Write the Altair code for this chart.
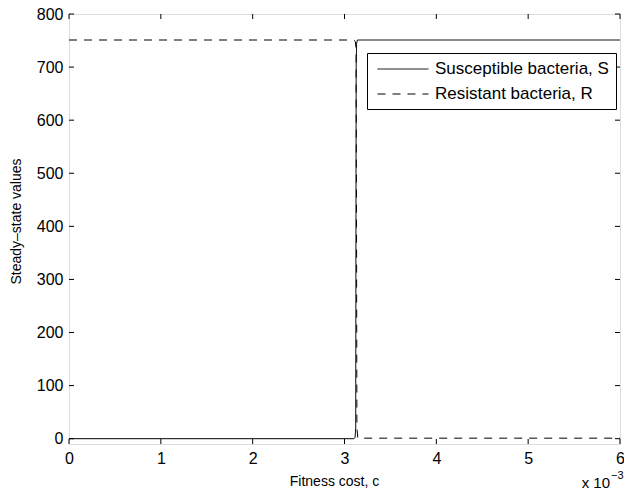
import altair as alt
import pandas as pd

# Data (x in units of 1e-3)
s_x = [0.0, 3.10, 3.115, 3.122, 3.127, 3.132, 3.14, 6.0]
s_y = [0.0, 0.0, 2.0, 20.0, 700.0, 745.0, 751.0, 751.0]
r_x = [0.0, 3.10, 3.118, 3.126, 3.131, 3.135, 3.145, 6.0]
r_y = [751.0, 751.0, 748.0, 735.0, 400.0, 20.0, 1.0, 1.0]
series_names = ["Susceptible bacteria, S", "Resistant bacteria, R"]
x_ticks = [0, 1, 2, 3, 4, 5, 6]
y_ticks = [0, 100, 200, 300, 400, 500, 600, 700, 800]

W, H = 551, 430
FONT = "Liberation Sans"

rows = []
for x, y in zip(s_x, s_y):
    rows.append({"x": x, "v": y, "series": series_names[0], "o": len(rows)})
for x, y in zip(r_x, r_y):
    rows.append({"x": x, "v": y, "series": series_names[1], "o": len(rows)})
df = pd.DataFrame(rows)

xs = alt.Scale(domain=[0, 6], nice=False)
ys = alt.Scale(domain=[-10, 800], nice=False)

lines = alt.Chart(df).mark_line(strokeWidth=1, color="black").encode(
    x=alt.X("x:Q", scale=xs,
            axis=alt.Axis(values=x_ticks, format="d", title="Fitness cost, c", grid=False,
                          tickSize=0, domain=False, labelPadding=6, labelFlush=False,
                          labelFontSize=16, labelFont=FONT, labelColor="black",
                          titleFont=FONT, titleFontSize=14, titleFontWeight="normal",
                          titleColor="black", titleY=37, titleX=265,
                          titleBaseline="middle")),
    y=alt.Y("v:Q", scale=ys,
            axis=alt.Axis(values=y_ticks, format="d", title="Steady\u2013state values", grid=False,
                          tickSize=0, domain=False, labelPadding=6,
                          labelFontSize=16, labelFont=FONT, labelColor="black",
                          titleFont=FONT, titleFontSize=14, titleFontWeight="normal",
                          titleColor="black", titleX=-53, titleY=207,
                          titleBaseline="middle")),
    detail="series:N",
    order="o:Q",
    strokeDash=alt.StrokeDash(
        "series:N",
        scale=alt.Scale(domain=series_names, range=[[1, 0], [8, 7]]),
        legend=alt.Legend(title=None, orient="none", legendX=298, legendY=39,
                          strokeColor="black", fillColor="white", padding=7,
                          symbolType="M-0.65,0H5.35", symbolSize=289, symbolStrokeWidth=1,
                          symbolStrokeColor="black", labelLimit=0,
                          labelFont=FONT, labelFontSize=17, labelColor="black",
                          labelOffset=43, rowPadding=8)),
)

xt = pd.DataFrame({"t": x_ticks})
yt = pd.DataFrame({"t": y_ticks})
tick_b = alt.Chart(xt).mark_rule(color="black", strokeWidth=1).encode(
    x=alt.X("t:Q", scale=xs), y=alt.value(H), y2=alt.value(H - 5))
tick_t = alt.Chart(xt).mark_rule(color="black", strokeWidth=1).encode(
    x=alt.X("t:Q", scale=xs), y=alt.value(0), y2=alt.value(5))
tick_l = alt.Chart(yt).mark_rule(color="black", strokeWidth=1).encode(
    y=alt.Y("t:Q", scale=ys), x=alt.value(0), x2=alt.value(5))
tick_r = alt.Chart(yt).mark_rule(color="black", strokeWidth=1).encode(
    y=alt.Y("t:Q", scale=ys), x=alt.value(W - 5), x2=alt.value(W))

exp_base = alt.Chart(pd.DataFrame({"t": ["x 10"]})).mark_text(
    font=FONT, fontSize=15, align="right", baseline="alphabetic", color="black"
).encode(text="t:N", x=alt.value(W - 10), y=alt.value(H + 44))
exp_sup = alt.Chart(pd.DataFrame({"t": ["\u22123"]})).mark_text(
    font=FONT, fontSize=11, align="left", baseline="alphabetic", color="black"
).encode(text="t:N", x=alt.value(W - 9), y=alt.value(H + 35))

chart = alt.layer(lines, tick_b, tick_t, tick_l, tick_r, exp_base, exp_sup).properties(
    width=W, height=H,
    autosize=alt.AutoSizeParams(type="none"),
    padding={"left": 61, "top": 6, "right": 4, "bottom": 47},
).configure_view(stroke="black", strokeWidth=1).configure(background="white")

chart.save("out.html", embed_options={"renderer": "svg", "actions": False})
